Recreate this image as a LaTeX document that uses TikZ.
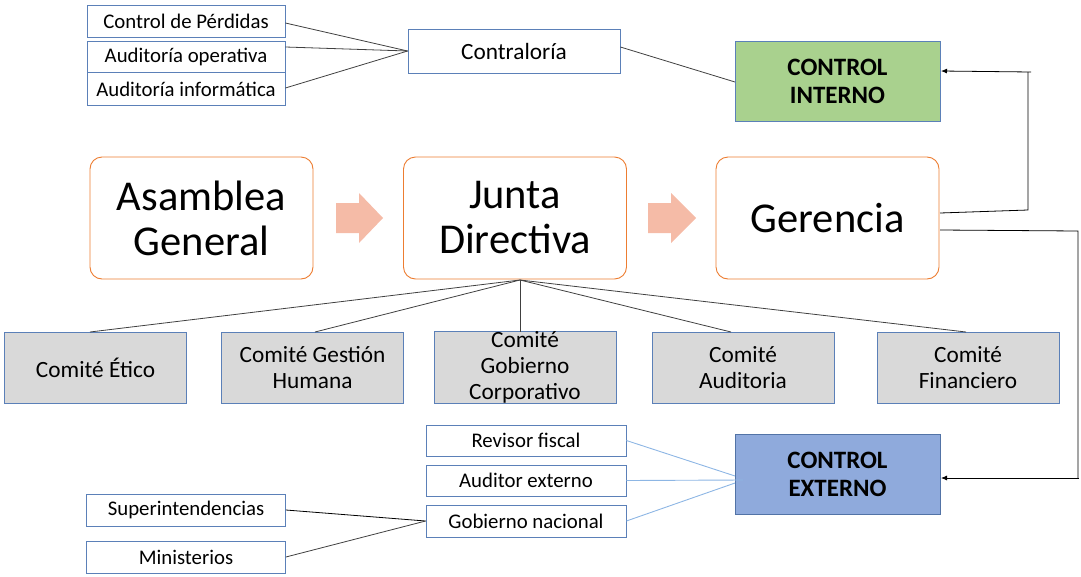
\documentclass[tikz,border=0pt]{standalone}
\usepackage{fontspec}
\setmainfont{Carlito}
\usetikzlibrary{arrows.meta}
\definecolor{orangeb}{HTML}{ED7D31}
\definecolor{chev}{HTML}{F5BBA7}
\definecolor{boxblue}{HTML}{5B80B8}
\definecolor{grayfill}{HTML}{D9D9D9}
\definecolor{greenfill}{HTML}{A9D18E}
\definecolor{bluefill}{HTML}{8FAADC}
\definecolor{lblue}{HTML}{8DB6E4}
\definecolor{linegray}{HTML}{404040}
\begin{document}
\begin{tikzpicture}[x=1pt,y=-1pt,
  smallbox/.style={draw=boxblue, fill=white, line width=0.8pt, inner sep=0pt, align=center, font=\fontsize{20.8}{24}\selectfont},
  midbox/.style={draw=boxblue, fill=white, line width=0.8pt, inner sep=0pt, align=center, font=\fontsize{23.3}{26}\selectfont},
  bigbox/.style={draw=orangeb, fill=white, line width=0.9pt, rounded corners=12pt, inner sep=0pt, align=center, minimum width=223, minimum height=122, font=\fontsize{42.5}{45}\selectfont},
  combox/.style={draw=boxblue, fill=grayfill, line width=0.8pt, inner sep=0pt, align=center, minimum width=182, minimum height=71, font=\fontsize{23.3}{26}\selectfont},
  ctrlbox/.style={draw=boxblue, line width=0.8pt, inner sep=0pt, align=center, minimum width=205, minimum height=80, font=\fontsize{25}{28}\selectfont\bfseries},
  conn/.style={draw=linegray, line width=0.8pt},
  bconn/.style={draw=lblue, line width=0.9pt},
  chevron/.style={fill=chev, draw=none},
  arr/.style={draw=black, line width=0.8pt, -{Latex[length=6pt,width=5pt]}}
]
\useasboundingbox (0,0) rectangle (1081,576);

% top-left boxes
\node[smallbox, minimum width=198, minimum height=32] (cdp) at (186,21) {Control de Pérdidas};
\node[smallbox, minimum width=198, minimum height=31] (aop) at (186,57) {Auditoría operativa};
\node[smallbox, minimum width=198, minimum height=33] (ainf) at (186,89) {Auditoría informática};
\node[midbox, minimum width=212, minimum height=44] (contr) at (514,51) {Contraloría};

\node[ctrlbox, fill=greenfill] (ci) at (837.5,81) {CONTROL\\INTERNO};

\draw[conn] (cdp.east |- 0,23) -- (contr.west);
\draw[conn] (aop.east |- 0,47) -- (contr.west);
\draw[conn] (ainf.east |- 0,88) -- (contr.west);
\coordinate (ciin) at (735,82);
\draw[conn] (contr.east |- 0,47) -- (ciin);

% main row
\node[bigbox] (ag) at (201.5,218) {Asamblea\\General};
\node[bigbox] (jd) at (515,218) {Junta\\Directiva};
\node[bigbox] (ger) at (827.5,218) {Gerencia};

\fill[chevron] (336,203) -- (359,203) -- (359,193) -- (383,218) -- (359,243) -- (359,233) -- (336,233) -- cycle;
\fill[chevron] (648,203) -- (671,203) -- (671,193) -- (696,218) -- (671,243) -- (671,233) -- (648,233) -- cycle;

% committees
\node[combox] (c1) at (95.5,367.5) {Comité Ético};
\node[combox] (c2) at (312.5,367.5) {Comité Gestión\\Humana};
\node[combox] (c3) at (525,367.5) {Comité\\Gobierno\\Corporativo};
\node[combox] (c4) at (743,367.5) {Comité\\Auditoria};
\node[combox] (c5) at (968,367.5) {Comité\\Financiero};

\coordinate (jdb) at (520,280);
\draw[conn] (jdb) -- (90,332);
\draw[conn] (jdb) -- (315,332);
\draw[conn] (jdb) -- (520,332);
\draw[conn] (jdb) -- (731,332);
\draw[conn] (jdb) -- (966,332);

% gerencia connectors
\coordinate (g1) at (1028,210);
\coordinate (g1t) at (1028,72);
\coordinate (g1e) at (1031,72);
\draw[conn, draw=black] (940,213) -- (g1) -- (g1t);
\draw[arr] (g1e) -- (941,71);

\coordinate (g2) at (1078,231);
\coordinate (g2b) at (1078,478);
\draw[conn, draw=black] (940,230) -- (g2) -- (g2b);
\draw[arr] (1079,478) -- (941,478);

% bottom
\node[ctrlbox, fill=bluefill, draw=boxblue!90!black] (ce) at (837.5,474.5) {CONTROL\\EXTERNO};
\node[smallbox, minimum width=200, minimum height=31] (rf) at (526,440.5) {Revisor fiscal};
\node[smallbox, minimum width=200, minimum height=31] (ae) at (526,480.5) {Auditor externo};
\node[smallbox, minimum width=200, minimum height=32] (gn) at (526,521) {Gobierno nacional};
\node[smallbox, minimum width=199, minimum height=32] (sup) at (186,510) {Superintendencias};
\node[smallbox, minimum width=199, minimum height=32] (min) at (186,557) {Ministerios};

\draw[bconn] (rf.east) -- (735,476);
\draw[bconn] (ae.east) -- (743,480);
\draw[bconn] (gn.east) -- (735,483);

\draw[conn, draw=black] (sup.east) -- (gn.west);
\draw[conn] (min.east) -- (gn.west);
\end{tikzpicture}
\end{document}
